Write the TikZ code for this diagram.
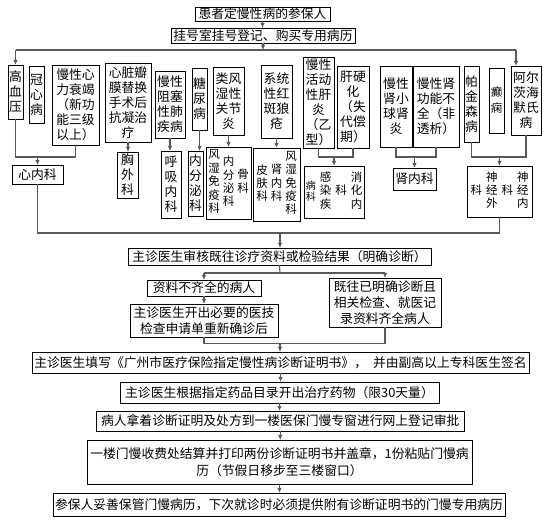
\documentclass[tikz,border=0pt]{standalone}
\usepackage{fontspec}
\setmainfont{Noto Sans CJK SC}
\usetikzlibrary{arrows.meta}
\tikzset{
  bx/.style={draw=black, line width=0.8pt, inner sep=0pt, outer sep=0pt, align=center,
             anchor=north west, font=\fontsize{12.8}{15}\selectfont},
  flow/.style={font=\fontsize{12.8}{16}\selectfont},
  dept/.style={font=\fontsize{11.5}{12.5}\selectfont},
  ln/.style={draw=black!65, line width=1.1pt},
  arr/.style={ln, -{Latex[length=5pt,width=4.5pt]}},
}
\newcommand\mybox[7][]{\node[bx,minimum width={#5-#3},minimum height={#6-#4},#1] (#2) at (#3,#4) {#7};}
\newcommand\vc[1]{\begin{tabular}[c]{@{}c@{}}#1\end{tabular}}
\begin{document}
\begin{tikzpicture}[x=1pt,y=-1pt]
\fill[white] (0,0) rectangle (550,521);
\useasboundingbox (0,0) rectangle (550,521);
% top flow
\mybox[flow]{t1}{195}{7}{330}{21}{患者定慢性病的参保人}
\mybox[flow]{t2}{171}{28}{355}{43}{挂号室挂号登记、购买专用病历}
% diseases
\mybox{gxy}{8}{65}{23}{119}{高\\血\\压}
\mybox{gx}{29}{66}{44}{123}{冠\\心\\病}
\mybox{xs}{52}{65}{99}{145}{慢性心\\力衰竭\\（新功\\能三级\\以上）}
\mybox{xz}{105}{63}{151}{142}{心脏瓣\\膜替换\\手术后\\抗凝治\\疗}
\mybox{mz}{155}{71}{185}{138}{慢性\\阻塞\\性肺\\疾病}
\mybox{tnb}{192}{68}{207}{130}{糖\\尿\\病}
\mybox{lfs}{213}{67}{244}{135}{类风\\湿性\\关节\\炎}
\mybox{xt}{261}{65}{292}{138}{系统\\性红\\斑狼\\疮}
\mybox{gy}{303}{57}{334}{148}{慢性\\活动\\性肝\\炎\\（乙\\型）}
\mybox{gyh}{337}{66}{369}{148}{肝硬\\化\\（失\\代偿\\期）}
\mybox{sxq}{380}{66}{412}{147}{慢性\\肾小\\球肾\\炎}
\mybox{sgn}{413}{66}{459}{147}{慢性肾\\功能不\\全（非\\透析）}
\mybox{pjs}{464}{66}{479}{142}{帕\\金\\森\\病}
\mybox[font=\fontsize{11.5}{16}\selectfont]{dx}{489}{68}{504}{133}{癫\\痫}
\mybox{aer}{511}{66}{541}{135}{阿尔\\茨海\\默氏\\病}
% departments
\mybox{xnk}{12}{165}{63}{184}{心内科}
\mybox{xwk}{117}{152}{138}{198}{胸\\外\\科}
\mybox{hx}{161}{151}{181}{218}{呼\\吸\\内\\科}
\mybox{nfm}{188}{151}{203}{216}{内\\分\\泌\\科}
\mybox[dept]{lfk}{206}{147}{251}{219}{\vc{风\\湿\\免\\疫\\科}\hspace{3pt}\vc{内\\分\\泌\\科}\hspace{3pt}\vc{骨\\科}}
\mybox[dept]{xtk}{253}{148}{300}{221}{\vc{皮\\肤\\科}\hspace{3pt}\vc{肾\\内\\科}\hspace{3pt}\vc{风\\湿\\免\\疫\\科}}
\mybox[dept]{gk}{304}{166}{364}{218}{{\fontsize{10}{11}\selectfont\vc{病\\科}}\hspace{4pt}\vc{感\\染\\疾}\hspace{4pt}\vc{科}\hspace{4pt}\vc{消\\化\\内}}
\mybox{snk}{393}{168}{436}{190}{肾内科}
\mybox[dept]{sj}{467}{166}{532}{217}{\vc{科}\hspace{4pt}\vc{神\\经\\外}\hspace{4pt}\vc{科}\hspace{4pt}\vc{神\\经\\内}}
% lower flow
\mybox[flow]{sh}{128}{248}{431}{265}{主诊医生审核既往诊疗资料或检验结果（明确诊断）}
\mybox[flow]{bq}{147}{280}{261}{296}{资料不齐全的病人}
\mybox[flow]{kc}{130}{304}{278}{337}{主诊医生开出必要的医技\\检查申请单重新确诊后}
\mybox[flow]{jw}{329}{278}{441}{327}{既往已明确诊断且\\相关检查、就医记\\录资料齐全病人}
\mybox[flow]{tx}{32}{352}{529}{373}{主诊医生填写《广州市医疗保险指定慢性病诊断证明书》，\hspace{6pt}并由副高以上专科医生签名}
\mybox[flow]{yw}{120}{382}{439}{403}{主诊医生根据指定药品目录开出治疗药物（限30天量）}
\mybox[flow]{dj}{96.5}{411}{464}{431}{病人拿着诊断证明及处方到一楼医保门慢专窗进行网上登记审批}
\mybox[font=\fontsize{12.8}{17.5}\selectfont]{jsb}{87}{440}{472}{484}{一楼门慢收费处结算并打印两份诊断证明书并盖章，1份粘贴门慢病\\历（节假日移步至三楼窗口）}
\mybox[flow]{cb}{53}{493}{505}{516}{参保人妥善保管门慢病历，下次就诊时必须提供附有诊断证明书的门慢专用病历}
% coordinates
\coordinate (hL) at (15.5,50);
\coordinate (hR) at (516,50);
\coordinate (jA) at (37.5,157);
\coordinate (jG) at (334,157);
\coordinate (jS) at (414.5,157);
\coordinate (jN) at (499.5,157);
\coordinate (jB) at (280,233);
\coordinate (jC) at (280,273);
\coordinate (jD) at (280,343.5);
% connectors top
\draw[arr] (t1.south) -- (t1.south |- t2.north);
\draw[arr] (t2.south) -- (t2.south |- hL);
\draw[ln] (hL) -- (hR);
\draw[arr] (hL) -- (gxy.north);
\draw[arr] (hR) -- (hR |- aer.north);
% disease -> departments
\draw[ln] (gxy.south) |- (jA) -| (xs.south);
\draw[arr] (jA) -- (xnk.north);
\draw[arr] (xz.south) -- (xz.south |- xwk.north);
\draw[arr] (mz.south) -- (mz.south |- hx.north);
\draw[arr] (tnb.south) -- (tnb.south |- nfm.north);
\draw[arr] (lfs.south) -- (lfs.south |- lfk.north);
\draw[arr] (xt.south) -- (xt.south |- xtk.north);
\draw[ln] (gy.south) |- (jG) -| (gyh.south);
\draw[arr] (jG) -- (jG |- gk.north);
\draw[ln] (sxq.south) |- (jS) -| (sgn.south);
\draw[arr] (jS) -- (jS |- snk.north);
\draw[ln] (pjs.south) |- (jN) -| (aer.south);
\draw[arr] (jN) -- (jN |- sj.north);
% departments -> review
\draw[ln] (xnk.south) |- (jB) -| (sj.south);
\draw[arr] (jB) -- (jB |- sh.north);
% branch
\draw[ln] (sh.south) -- (jC);
\draw[ln] (bq.north |- jC) -- (jw.north |- jC);
\draw[arr] (bq.north |- jC) -- (bq.north);
\draw[arr] (jw.north |- jC) -- (jw.north);
\draw[arr] (bq.south) -- (bq.south |- kc.north);
\draw[ln] (kc.south) |- (jD) -| (jw.south);
\draw[arr] (jD) -- (jD |- tx.north);
% final chain
\draw[arr] (tx.south) -- (tx.south |- yw.north);
\draw[arr] (yw.south) -- (yw.south |- dj.north);
\draw[arr] (dj.south) -- (dj.south |- jsb.north);
\draw[arr] (jsb.south) -- (jsb.south |- cb.north);
\end{tikzpicture}
\end{document}
